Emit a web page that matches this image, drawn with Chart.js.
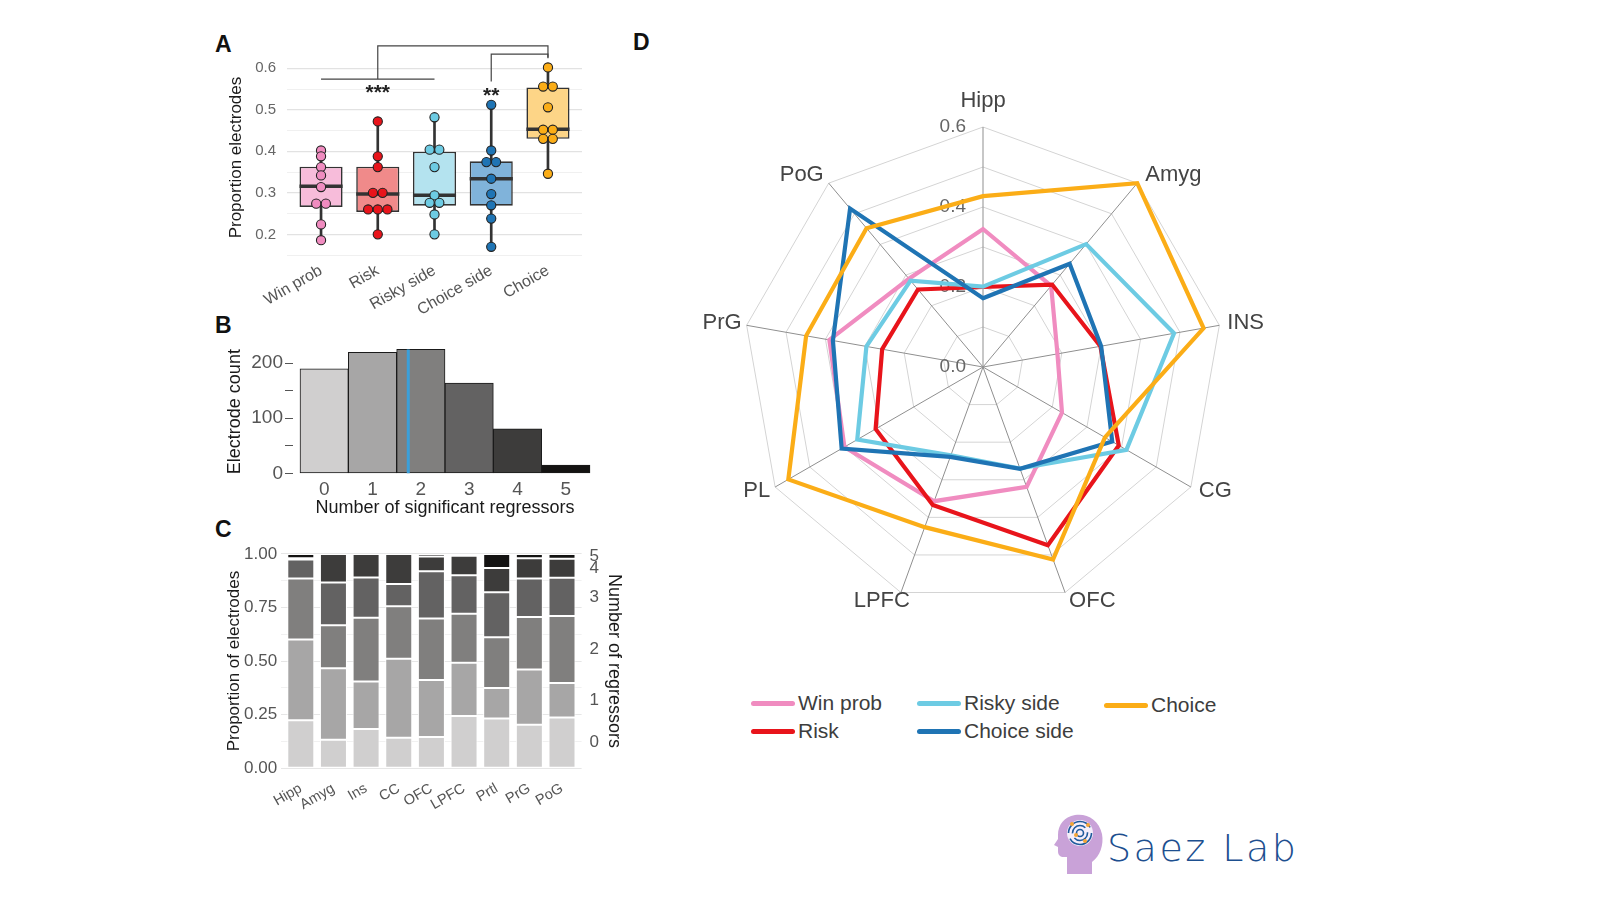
<!DOCTYPE html>
<html>
<head>
<meta charset="utf-8">
<title>Regressor encoding across regions</title>
<script src="https://cdn.jsdelivr.net/npm/chart.js@4.4.1/dist/chart.umd.min.js"></script>
<style>
  body{margin:0;width:1600px;height:900px;position:relative;overflow:hidden;background:#fff;font-family:Arial,"Liberation Sans",sans-serif}
  .panel{position:absolute}
  .tag{position:absolute;font-weight:bold;font-size:23px;line-height:1;color:#111}
  .leg{position:absolute;font-size:21px;line-height:24px;color:#3d3d3d;white-space:nowrap}
  .leg i{display:inline-block;width:44px;height:5px;border-radius:3px;vertical-align:middle;margin-right:3px;position:relative;top:-1px}
  .logo{position:absolute;left:1107px;top:829px;font-family:"DejaVu Sans",sans-serif;font-weight:300;font-size:38px;letter-spacing:2.5px;line-height:1;color:#1d4f8f}
</style>
</head>
<body>

<div class="tag" style="left:215px;top:33px">A</div>
<div class="tag" style="left:215px;top:314px">B</div>
<div class="tag" style="left:215px;top:518px">C</div>
<div class="tag" style="left:633px;top:31px">D</div>

<div class="panel" style="left:210px;top:30px;width:380px;height:290px"><canvas id="boxChart"></canvas></div>
<div class="panel" style="left:215px;top:330px;width:385px;height:193px"><canvas id="countChart"></canvas></div>
<div class="panel" style="left:205px;top:525px;width:420px;height:285px"><canvas id="stackChart"></canvas></div>
<div class="panel" style="left:682.5px;top:66.5px;width:600px;height:600px"><canvas id="radarChart"></canvas></div>

<div class="leg" style="left:751px;top:691px"><i style="background:#f08cc0"></i>Win prob</div>
<div class="leg" style="left:917px;top:691px"><i style="background:#6dcbe3"></i>Risky side</div>
<div class="leg" style="left:1104px;top:693px"><i style="background:#fbad17"></i>Choice</div>
<div class="leg" style="left:751px;top:719px"><i style="background:#e8141b"></i>Risk</div>
<div class="leg" style="left:917px;top:719px"><i style="background:#1f74b4"></i>Choice side</div>

<svg class="panel" style="left:1052px;top:812px" width="54" height="62" viewBox="0 0 54 62">
  <path d="M40,62 L40,50 C48,44 52,33 50,22 C47,8 35,1 23,3 C12,5 6,13 6,23 L6,27 L2,33 L6,35 L6,39 C6,43 8,45 12,45 L15,45 L15,62 Z" fill="#c9a2d8"/>
  <circle cx="28" cy="21" r="13" fill="#f4eefa"/>
  <circle cx="28" cy="21" r="11.5" fill="none" stroke="#1e5a9c" stroke-width="1.6" stroke-dasharray="30 6"/>
  <circle cx="28" cy="21" r="7.5" fill="none" stroke="#1e5a9c" stroke-width="1.6" stroke-dasharray="18 5"/>
  <circle cx="28" cy="21" r="3.5" fill="none" stroke="#1e5a9c" stroke-width="1.6"/>
  <circle cx="20" cy="12" r="2" fill="#f4a535"/>
  <circle cx="36" cy="13" r="2" fill="#f4a535"/>
  <circle cx="24" cy="23" r="2" fill="#f4a535"/>
  <circle cx="33" cy="29" r="2" fill="#f4a535"/>
</svg>
<div class="logo">Saez Lab</div>

<script>
Chart.defaults.font.family = 'Arial, "Liberation Sans", sans-serif';
Chart.defaults.color = '#555';
Chart.defaults.animation = false;
Chart.defaults.plugins.legend.display = false;
Chart.defaults.plugins.tooltip.enabled = false;

// ---------- A: proportion of electrodes per regressor (one point per subject)
const regressors = ["Win prob", "Risk", "Risky side", "Choice side", "Choice"];
const ptWinProb    = [0.402, 0.388, 0.362, 0.342, 0.314, 0.274, 0.274, 0.224, 0.186];
const ptRisk       = [0.472, 0.388, 0.362, 0.300, 0.300, 0.260, 0.260, 0.260, 0.200];
const ptRiskySide  = [0.482, 0.404, 0.404, 0.362, 0.294, 0.276, 0.276, 0.248, 0.200];
const ptChoiceSide = [0.512, 0.402, 0.374, 0.374, 0.334, 0.297, 0.270, 0.238, 0.170];
const ptChoice     = [0.602, 0.556, 0.556, 0.506, 0.452, 0.452, 0.430, 0.430, 0.346];
const boxQ1     = [0.266, 0.254, 0.269, 0.269, 0.430];
const boxQ3     = [0.363, 0.363, 0.399, 0.376, 0.554];
const boxMedian = [0.316, 0.297, 0.294, 0.334, 0.453];
const whiskLow  = [0.186, 0.200, 0.200, 0.170, 0.346];
const whiskHigh = [0.402, 0.472, 0.482, 0.512, 0.602];
const aTicks = [0.15, 0.2, 0.25, 0.3, 0.35, 0.4, 0.45, 0.5, 0.55, 0.6];
const regColors = ["#f08cc0", "#e8141b", "#6dcbe3", "#1f74b4", "#fbad17"];
const boxFills  = ["#f7bcda", "#f08a8a", "#b4e3ef", "#80b3da", "#fdd587"];
// significance brackets: group of x-indices vs Choice
const brackets = [
  { from: 0, to: 2, stem: 1, base: 0.574, top: 0.654, end: 0.626, label: "***" },
  { from: 3, to: 3, stem: 3, base: 0.568, top: 0.634, end: 0.624, label: "**" }
];
const bracketTarget = 4;

// ---------- B: electrode count per number of significant regressors
const nRegressors = [0, 1, 2, 3, 4, 5];
const electrodeCount = [190, 220, 225, 164, 81, 15];
const meanRegressors = 1.74;
const grays = ["#d0cfcf", "#a7a6a6", "#807f7e", "#636262", "#3d3c3b", "#141312"];

// ---------- C: proportion of electrodes by number of regressors, per region
const regionsC = ["Hipp", "Amyg", "Ins", "CC", "OFC", "LPFC", "Prtl", "PrG", "PoG"];
const lvl0 = [0.224, 0.133, 0.183, 0.142, 0.145, 0.244, 0.232, 0.203, 0.237];
const lvl1 = [0.376, 0.333, 0.222, 0.369, 0.267, 0.248, 0.142, 0.258, 0.160];
const lvl2 = [0.285, 0.201, 0.297, 0.245, 0.286, 0.229, 0.237, 0.244, 0.313];
const lvl3 = [0.089, 0.200, 0.188, 0.104, 0.221, 0.180, 0.210, 0.180, 0.179];
const lvl4 = [0.006, 0.133, 0.110, 0.140, 0.069, 0.091, 0.113, 0.095, 0.088];
const lvl5 = [0.020, 0.000, 0.000, 0.000, 0.012, 0.008, 0.066, 0.020, 0.023];
const levels = [lvl0, lvl1, lvl2, lvl3, lvl4, lvl5];
const cTicks = [0, 0.125, 0.25, 0.375, 0.5, 0.625, 0.75, 0.875, 1];

// ---------- D: radar, proportion per region
const regionsD = ["Hipp", "Amyg", "INS", "CG", "OFC", "LPFC", "PL", "PrG", "PoG"];
const rWinProb    = [0.345, 0.265, 0.189, 0.228, 0.319, 0.357, 0.400, 0.390, 0.288];
const rRisk       = [0.200, 0.269, 0.298, 0.392, 0.474, 0.367, 0.310, 0.256, 0.253];
const rRiskySide  = [0.201, 0.401, 0.485, 0.414, 0.270, 0.235, 0.363, 0.296, 0.282];
const rChoiceSide = [0.172, 0.337, 0.300, 0.373, 0.271, 0.239, 0.408, 0.381, 0.517];
const rChoice     = [0.427, 0.600, 0.560, 0.352, 0.512, 0.426, 0.562, 0.449, 0.453];
const rTickLabels = [0, 0.2, 0.4, 0.6];

const isTenth = v => Math.abs(v * 10 - Math.round(v * 10)) < 1e-6;

// put equal values side by side, like a dot plot
function dodge(values, idx){
  const groups = {};
  values.forEach(v => { const k = v.toFixed(3); (groups[k] = groups[k] || []).push(v); });
  const out = [];
  Object.values(groups).forEach(g => g.forEach((v, j) => out.push({ x: idx + (j - (g.length - 1) / 2) * 0.17, y: v })));
  return out;
}

const medianLines = {
  id: "medianLines",
  afterDatasetDraw(chart, args){
    if (chart.data.datasets[args.index].label !== "box") return;
    const ctx = chart.ctx, y = chart.scales.y;
    ctx.save();
    ctx.strokeStyle = "#333"; ctx.lineWidth = 3.5;
    args.meta.data.forEach((el, i) => {
      const py = y.getPixelForValue(boxMedian[i]);
      ctx.beginPath(); ctx.moveTo(el.x - el.width / 2, py); ctx.lineTo(el.x + el.width / 2, py); ctx.stroke();
    });
    ctx.restore();
  }
};

const bracketLines = {
  id: "bracketLines",
  afterDraw(chart){
    const ctx = chart.ctx, x = chart.scales.x, y = chart.scales.y;
    ctx.save();
    ctx.strokeStyle = "#444"; ctx.lineWidth = 1.2;
    ctx.fillStyle = "#222"; ctx.font = "bold 21px Arial, 'Liberation Sans', sans-serif";
    ctx.textAlign = "center"; ctx.textBaseline = "top";
    const xt = x.getPixelForValue(bracketTarget);
    brackets.forEach(b => {
      const yb = y.getPixelForValue(b.base), yt = y.getPixelForValue(b.top), ye = y.getPixelForValue(b.end);
      const xs = x.getPixelForValue(b.stem);
      ctx.beginPath();
      if (b.from !== b.to){
        ctx.moveTo(x.getPixelForValue(b.from), yb); ctx.lineTo(x.getPixelForValue(b.to), yb);
      }
      ctx.moveTo(xs, yb); ctx.lineTo(xs, yt); ctx.lineTo(xt, yt); ctx.lineTo(xt, ye);
      ctx.stroke();
      ctx.fillText(b.label, xs, yb + 4);
    });
    ctx.restore();
  }
};

const pointSets = [ptWinProb, ptRisk, ptRiskySide, ptChoiceSide, ptChoice];

new Chart(document.getElementById("boxChart"), {
  type: "bar",
  data: {
    datasets: [
      { label: "whisker", data: regressors.map((_, i) => ({ x: i, y: [whiskLow[i], whiskHigh[i]] })),
        backgroundColor: "#333", barThickness: 2, grouped: false, order: 3 },
      { label: "box", data: regressors.map((_, i) => ({ x: i, y: [boxQ1[i], boxQ3[i]] })),
        backgroundColor: boxFills, borderColor: "#333", borderWidth: 1.6, borderSkipped: false,
        barPercentage: 0.76, categoryPercentage: 1, grouped: false, order: 2 },
      ...pointSets.map((vals, i) => ({
        type: "scatter", label: regressors[i], data: dodge(vals, i),
        backgroundColor: regColors[i], borderColor: "#222", borderWidth: 1.1, pointRadius: 4.6, order: 1
      }))
    ]
  },
  options: {
    responsive: true, maintainAspectRatio: false,
    layout: { padding: { left: 12.5, right: 8, top: 27.9, bottom: 0 } },
    scales: {
      x: {
        type: "linear", min: -0.6, max: 4.6, offset: false,
        grid: { display: false, offset: false, drawTicks: false }, border: { display: false },
        afterBuildTicks: s => { s.ticks = regressors.map((_, i) => ({ value: i })); },
        ticks: { callback: v => regressors[v], minRotation: 30, maxRotation: 30, autoSkip: false, color: "#555", font: { size: 16 }, padding: 4 },
        afterFit: s => { s.height = 62.8; }
      },
      y: {
        min: 0.145, max: 0.625,
        afterBuildTicks: s => { s.ticks = aTicks.map(v => ({ value: v })); },
        ticks: { callback: v => isTenth(v) ? v.toFixed(1) : "", color: "#666", font: { size: 15 }, padding: 11 },
        grid: { color: c => isTenth(c.tick.value) ? "#e2e2e2" : "#f0f0f0", lineWidth: c => isTenth(c.tick.value) ? 1.3 : 1, drawTicks: false },
        border: { display: false },
        title: { display: true, text: "Proportion electrodes", color: "#1a1a1a", font: { size: 17 } },
        afterFit: s => { s.width = 64.5; }
      }
    }
  },
  plugins: [medianLines, bracketLines]
});

new Chart(document.getElementById("countChart"), {
  type: "bar",
  data: {
    datasets: [
      { type: "line", label: "mean", data: [{ x: meanRegressors, y: 0 }, { x: meanRegressors, y: electrodeCount[2] }],
        borderColor: "#3a9fd9", borderWidth: 3, pointRadius: 0, order: 0 },
      { label: "count", data: nRegressors.map((n, i) => ({ x: n, y: electrodeCount[i] })),
        backgroundColor: grays, borderColor: "#1a1a1a", borderWidth: 1, borderSkipped: false,
        barPercentage: 1, categoryPercentage: 1, order: 1 }
    ]
  },
  options: {
    responsive: true, maintainAspectRatio: false,
    layout: { padding: { left: 5.2, right: 3, top: 10.8, bottom: 0 } },
    scales: {
      x: {
        type: "linear", min: -0.645, max: 5.645, offset: false,
        grid: { display: false, offset: false, drawTicks: false }, border: { display: false },
        afterBuildTicks: s => { s.ticks = nRegressors.map(v => ({ value: v })); },
        ticks: { color: "#555", font: { size: 19 }, padding: -2 },
        title: { display: true, text: "Number of significant regressors", color: "#1a1a1a", font: { size: 18 } },
        afterFit: s => { s.height = 43.1; }
      },
      y: {
        min: -12, max: 236,
        afterBuildTicks: s => { s.ticks = [0, 50, 100, 150, 200].map(v => ({ value: v })); },
        ticks: { callback: v => v % 100 === 0 ? v : "", color: "#555", font: { size: 19 }, padding: 2 },
        grid: { drawOnChartArea: false, drawTicks: true, tickLength: 8, tickColor: "#555" },
        border: { display: false },
        title: { display: true, text: "Electrode count", color: "#1a1a1a", font: { size: 18 } },
        afterFit: s => { s.width = 72.8; }
      }
    }
  }
});

// right-axis ticks sit at the middle of each PoG segment
const pogMids = [];
levels.reduce((acc, lv) => { const v = lv[lv.length - 1]; pogMids.push(acc + v / 2); return acc + v; }, 0);

new Chart(document.getElementById("stackChart"), {
  type: "bar",
  data: {
    datasets: levels.map((lv, k) => ({
      label: String(k), data: lv.map((v, i) => ({ x: i, y: v })),
      backgroundColor: grays[k], borderColor: "#fff", borderWidth: 1, borderSkipped: false,
      barPercentage: 0.827, categoryPercentage: 1, yAxisID: "y"
    }))
  },
  options: {
    responsive: true, maintainAspectRatio: false,
    layout: { padding: { left: 17, right: 0, top: 13.8, bottom: 0 } },
    scales: {
      x: {
        type: "linear", min: -0.6, max: 8.6, offset: false, stacked: true,
        grid: { display: false, offset: false, drawTicks: false }, border: { display: false },
        afterBuildTicks: s => { s.ticks = regionsC.map((_, i) => ({ value: i })); },
        ticks: { callback: v => regionsC[v], minRotation: 30, maxRotation: 30, autoSkip: false, color: "#555", font: { size: 14.5 }, padding: 1 },
        afterFit: s => { s.height = 31.1; }
      },
      y: {
        min: -0.05, max: 1.05, stacked: true,
        afterBuildTicks: s => { s.ticks = cTicks.map(v => ({ value: v })); },
        ticks: { callback: v => (v * 4) % 1 === 0 ? v.toFixed(2) : "", color: "#555", font: { size: 17 }, padding: 4 },
        grid: { color: c => (c.tick.value * 4) % 1 === 0 ? "#e6e6e6" : "#f1f1f1", drawTicks: false },
        border: { display: false },
        title: { display: true, text: "Proportion of electrodes", color: "#1a1a1a", font: { size: 17 }, padding: { top: 2, bottom: 2 } },
        afterFit: s => { s.width = 59.2; }
      },
      y2: {
        position: "right", min: -0.05, max: 1.05,
        afterBuildTicks: s => { s.ticks = pogMids.map(v => ({ value: v })); },
        ticks: { callback: (v, i) => String(i), color: "#555", font: { size: 17 }, padding: 8 },
        grid: { drawOnChartArea: false, drawTicks: false },
        border: { display: false },
        title: { display: true, text: "Number of regressors", color: "#1a1a1a", font: { size: 18 }, padding: { top: 0, bottom: 0 } },
        afterFit: s => { s.width = 43.4; }
      }
    }
  }
});

const radarText = {
  id: "radarText",
  beforeDatasetsDraw(chart){
    const r = chart.scales.r, ctx = chart.ctx;
    ctx.save();
    ctx.fillStyle = "#666"; ctx.font = "19px Arial, 'Liberation Sans', sans-serif";
    ctx.textAlign = "right"; ctx.textBaseline = "middle";
    rTickLabels.forEach(v => ctx.fillText(v.toFixed(1), r.xCenter - 17, r.yCenter - r.getDistanceFromCenterForValue(v)));
    ctx.restore();
  },
  afterDraw(chart){
    const r = chart.scales.r, ctx = chart.ctx;
    ctx.save();
    ctx.fillStyle = "#444"; ctx.font = "22px Arial, 'Liberation Sans', sans-serif";
    ctx.textBaseline = "middle";
    regionsD.forEach((name, i) => {
      // labels hang off the outer vertex, pushed outward on each side
      const p = r.getPointPosition(i, r.drawingArea);
      const dx = p.x - r.xCenter, dy = (p.y - r.yCenter) / r.drawingArea;
      if (Math.abs(dx) < 1){
        ctx.textAlign = "center";
        ctx.fillText(name, p.x, p.y - 26);
        return;
      }
      const bottom = dy > 0.9;
      ctx.textAlign = dx > 0 ? "left" : "right";
      const shift = dx > 0 ? (bottom ? 4 : 8) : (bottom ? 9 : -5);
      ctx.fillText(name, p.x + shift, p.y + 10 * dy - 1);
    });
    ctx.restore();
  }
};

const radarSeries = [
  ["Win prob", rWinProb], ["Risk", rRisk], ["Risky side", rRiskySide], ["Choice side", rChoiceSide], ["Choice", rChoice]
];

new Chart(document.getElementById("radarChart"), {
  type: "radar",
  data: {
    labels: regionsD,
    datasets: radarSeries.map(([name, vals], i) => ({
      label: name, data: vals, borderColor: regColors[i], borderWidth: 4.2,
      fill: false, pointRadius: 0, order: radarSeries.length - 1 - i
    }))
  },
  options: {
    responsive: true, maintainAspectRatio: false,
    layout: { padding: 60 },
    scales: {
      r: {
        min: 0, max: 0.6,
        ticks: { display: false, stepSize: 0.1 },
        grid: { color: "#d4d4d4", lineWidth: 1 },
        angleLines: { color: "#8f8f8f", lineWidth: 1 },
        pointLabels: { display: false }
      }
    }
  },
  plugins: [radarText]
});
</script>
</body>
</html>
